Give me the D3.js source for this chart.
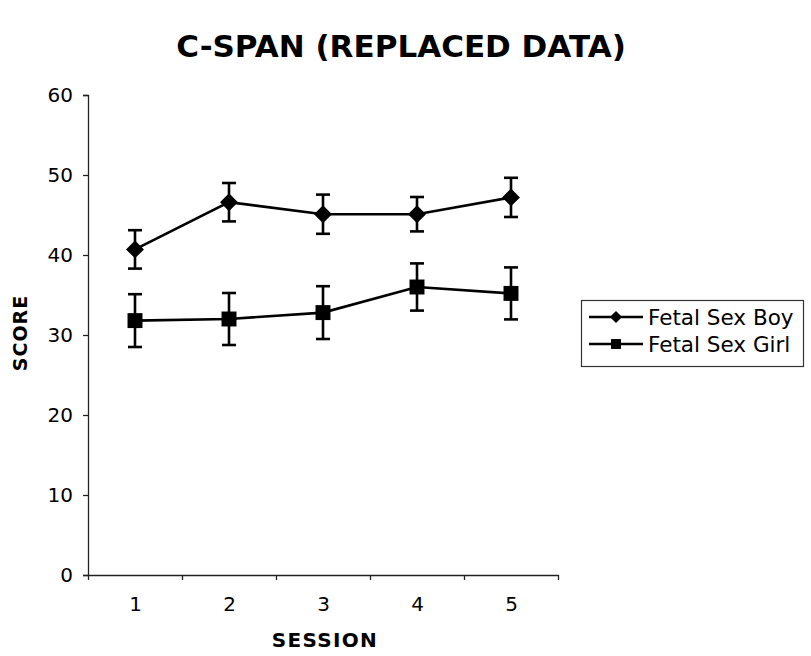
<!DOCTYPE html>
<html>
<head>
<meta charset="utf-8">
<script src="https://cdn.jsdelivr.net/npm/d3@7"></script>
<style>
	body { margin: 0; background: #fff; }
	svg { display: block; font-family: 'DejaVu Sans', Verdana, sans-serif; }
</style>
</head>
<body>
<div id="chart"></div>
<script>
var sessions = [1, 2, 3, 4, 5];
var boyScores = [40.7, 46.6, 45.1, 45.1, 47.2];
var boyErrors = [2.4, 2.4, 2.45, 2.15, 2.45];
var girlScores = [31.8, 32.0, 32.8, 36.0, 35.2];
var girlErrors = [3.3, 3.25, 3.3, 2.95, 3.25];
var yTicks = [0, 10, 20, 30, 40, 50, 60];
var seriesNames = ['Fetal Sex Boy', 'Fetal Sex Girl'];

var W = 811, H = 656;
var plotLeft = 88, plotRight = 558, plotTop = 95, plotBottom = 575;

var svg = d3.select('#chart')
	.append('svg')
	.attr('width', W)
	.attr('height', H);

var x = d3.scaleLinear()
	.domain([0.5, 5.5])
	.range([plotLeft, plotRight]);

var y = d3.scaleLinear()
	.domain([0, 60])
	.range([plotBottom, plotTop]);

// title
svg.append('text')
	.attr('x', 401)
	.attr('y', 57)
	.attr('text-anchor', 'middle')
	.style('font-size', '31px')
	.style('font-weight', 'bold')
	.text('C-SPAN (REPLACED DATA)');

// y axis
svg.append('g')
	.attr('transform', 'translate(' + plotLeft + ',0)')
	.call(d3.axisLeft(y).tickValues(yTicks).tickSize(5).tickPadding(10));

// x axis: boundary ticks + centred labels
svg.append('g')
	.attr('transform', 'translate(0,' + plotBottom + ')')
	.call(d3.axisBottom(x).tickValues([0.5, 1.5, 2.5, 3.5, 4.5, 5.5])
		.tickFormat('').tickSize(5).tickSizeOuter(0));

var xLabels = svg.append('g')
	.attr('transform', 'translate(0,' + plotBottom + ')')
	.call(d3.axisBottom(x).tickValues(sessions).tickFormat(d3.format('d'))
		.tickSize(0).tickPadding(22));
xLabels.select('.domain').remove();

svg.selectAll('.domain, .tick line')
	.attr('stroke', '#222')
	.attr('stroke-width', 1.3);
svg.selectAll('.tick text')
	.attr('fill', '#000')
	.style('font-size', '20px')
	.style('font-family', "'DejaVu Sans', Verdana, sans-serif");

// axis titles
svg.append('text')
	.attr('x', 325)
	.attr('y', 647)
	.attr('text-anchor', 'middle')
	.style('font-size', '20px')
	.style('font-weight', 'bold')
	.style('letter-spacing', '1.3px')
	.text('SESSION');

svg.append('text')
	.attr('transform', 'translate(27,333) rotate(-90)')
	.attr('text-anchor', 'middle')
	.style('font-size', '19px')
	.style('font-weight', 'bold')
	.style('letter-spacing', '1px')
	.text('SCORE');

var diamond = d3.symbol().type(d3.symbolDiamond2);
var square = d3.symbol().type(d3.symbolSquare2);

var series = [
	{name: seriesNames[0], values: boyScores, errors: boyErrors, sym: diamond.size(205)()},
	{name: seriesNames[1], values: girlScores, errors: girlErrors, sym: square.size(285)()}
];

var line = d3.line()
	.x(function(d, i) {return x(sessions[i])})
	.y(function(d) {return y(d)});

series.forEach(function(s) {
	var g = svg.append('g');

	// error bars
	var eb = g.selectAll('.err')
		.data(s.values)
		.enter()
		.append('g')
		.attr('stroke', '#000')
		.attr('stroke-width', 2.6);
	eb.append('line')
		.attr('x1', function(d, i) {return x(sessions[i])})
		.attr('x2', function(d, i) {return x(sessions[i])})
		.attr('y1', function(d, i) {return y(d + s.errors[i])})
		.attr('y2', function(d, i) {return y(d - s.errors[i])});
	[1, -1].forEach(function(sign) {
		eb.append('line')
			.attr('x1', function(d, i) {return x(sessions[i]) - 7})
			.attr('x2', function(d, i) {return x(sessions[i]) + 7})
			.attr('y1', function(d, i) {return y(d + sign * s.errors[i])})
			.attr('y2', function(d, i) {return y(d + sign * s.errors[i])});
	});

	g.append('path')
		.datum(s.values)
		.attr('d', line)
		.attr('fill', 'none')
		.attr('stroke', '#000')
		.attr('stroke-width', 2.6);

	g.selectAll('.pt')
		.data(s.values)
		.enter()
		.append('path')
		.attr('d', s.sym)
		.attr('transform', function(d, i) {return 'translate(' + x(sessions[i]) + ',' + y(d) + ')'})
		.attr('fill', '#000');
});

// legend
var legend = svg.append('g');
legend.append('rect')
	.attr('x', 581.5)
	.attr('y', 300.5)
	.attr('width', 222)
	.attr('height', 66)
	.attr('fill', '#fff')
	.attr('stroke', '#333')
	.attr('stroke-width', 1.2);

var legendSyms = [diamond.size(95)(), square.size(125)()];
var legendY = d3.scalePoint()
	.domain(seriesNames)
	.range([317, 344]);

seriesNames.forEach(function(name, i) {
	var ly = legendY(name);
	legend.append('line')
		.attr('x1', 589)
		.attr('x2', 643)
		.attr('y1', ly)
		.attr('y2', ly)
		.attr('stroke', '#000')
		.attr('stroke-width', 2.4);
	legend.append('path')
		.attr('d', legendSyms[i])
		.attr('transform', 'translate(616,' + ly + ')')
		.attr('fill', '#000');
	legend.append('text')
		.attr('x', 648)
		.attr('y', ly)
		.attr('dy', '0.35em')
		.style('font-size', '21.5px')
		.text(name);
});
</script>
</body>
</html>
